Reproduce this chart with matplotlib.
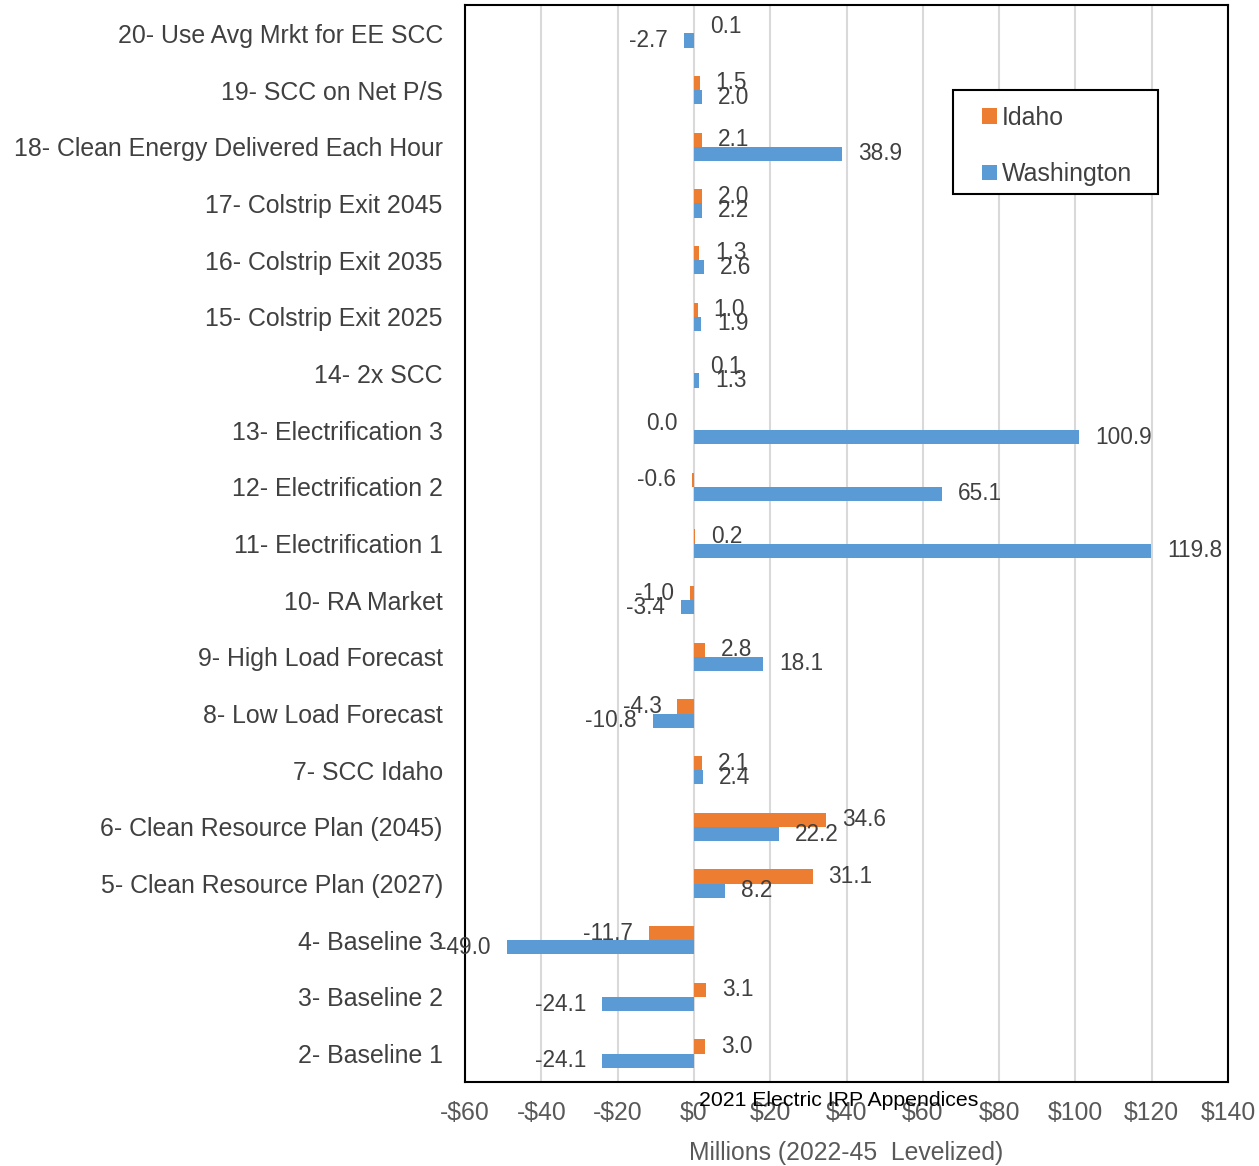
import matplotlib.pyplot as plt
import numpy as np
from matplotlib.patches import Rectangle

plt.rcParams['font.family'] = ['Liberation Sans', 'DejaVu Sans']

# scenarios, bottom to top
scenarios = ["2- Baseline 1", "3- Baseline 2", "4- Baseline 3",
             "5- Clean Resource Plan (2027)", "6- Clean Resource Plan (2045)",
             "7- SCC Idaho", "8- Low Load Forecast", "9- High Load Forecast",
             "10- RA Market", "11- Electrification 1", "12- Electrification 2",
             "13- Electrification 3", "14- 2x SCC", "15- Colstrip Exit 2025",
             "16- Colstrip Exit 2035", "17- Colstrip Exit 2045",
             "18- Clean Energy Delivered Each Hour", "19- SCC on Net P/S",
             "20- Use Avg Mrkt for EE SCC"]
idaho = [3.0, 3.1, -11.7, 31.1, 34.6, 2.1, -4.3, 2.8, -1.0, 0.2, -0.6,
         0.0, 0.1, 1.0, 1.3, 2.0, 2.1, 1.5, 0.1]
washington = [-24.1, -24.1, -49.0, 8.2, 22.2, 2.4, -10.8, 18.1, -3.4, 119.8,
              65.1, 100.9, 1.3, 1.9, 2.6, 2.2, 38.9, 2.0, -2.7]
xticks = [-60, -40, -20, 0, 20, 40, 60, 80, 100, 120, 140]
xtick_labels = ["-$60", "-$40", "-$20", "$0", "$20", "$40", "$60", "$80",
                "$100", "$120", "$140"]

orange = "#ED7D31"
blue = "#5B9BD5"
txt = "#404040"

fig = plt.figure(figsize=(12.59, 11.66), dpi=100)
ax = fig.add_axes([465 / 1259, 1 - 1082 / 1166, 763 / 1259, 1077 / 1166])

y = np.arange(len(scenarios))
h = 0.25
ax.barh(y + h / 2, idaho, height=h, color=orange, label="Idaho", zorder=3)
ax.barh(y - h / 2, washington, height=h, color=blue, label="Washington", zorder=3)

# data labels outside bar ends
for vals, off in [(idaho, h / 2), (washington, -h / 2)]:
    for yi, v in zip(y, vals):
        if v > 0:
            ax.annotate(f"{v:.1f}", (v, yi + off), xytext=(11.5, 0),
                        textcoords="offset points", ha="left", va="center",
                        fontsize=16.3, color=txt, annotation_clip=False, zorder=4)
        else:
            ax.annotate(f"{v:.1f}", (v, yi + off), xytext=(-11.5, 0),
                        textcoords="offset points", ha="right", va="center",
                        fontsize=16.3, color=txt, annotation_clip=False, zorder=4)

ax.set_xlim(-60, 140)
ax.set_ylim(-0.5, len(scenarios) - 0.5)
ax.set_xticks(xticks)
ax.set_xticklabels(xtick_labels)
ax.set_yticks(y)
ax.set_yticklabels(scenarios)
ax.tick_params(axis="x", length=0, pad=13.5, labelsize=17.8, labelcolor="#595959")
ax.tick_params(axis="y", length=0, pad=16, labelsize=17.9, labelcolor=txt)
ax.xaxis.grid(True, color="#D9D9D9", linewidth=1.5, zorder=0)
ax.set_axisbelow(True)
for s in ax.spines.values():
    s.set_color("black")
    s.set_linewidth(1.5)

ax.set_xlabel("Millions (2022-45  Levelized)", fontsize=17.8, color="#595959",
              labelpad=12)

# legend box drawn separately so the padding can match
ax.add_patch(Rectangle((0.6396, 0.8245), 0.2687, 0.0965, transform=ax.transAxes,
                       facecolor="white", edgecolor="black", linewidth=1.5,
                       zorder=5, clip_on=False))
leg = ax.legend(loc="upper left", bbox_to_anchor=(0.6775, 0.9063), fontsize=17.9,
                frameon=False, handlelength=0.6, handleheight=0.6,
                handletextpad=0.2, labelspacing=1.3, borderpad=0,
                borderaxespad=0)
leg.set_zorder(6)
for t in leg.get_texts():
    t.set_color(txt)

fig.text(699 / 1259, 1 - 1101 / 1166, "2021 Electric IRP Appendices",
         fontsize=15.3, color="black", ha="left", va="center")

fig.savefig("out.png", dpi=100)
